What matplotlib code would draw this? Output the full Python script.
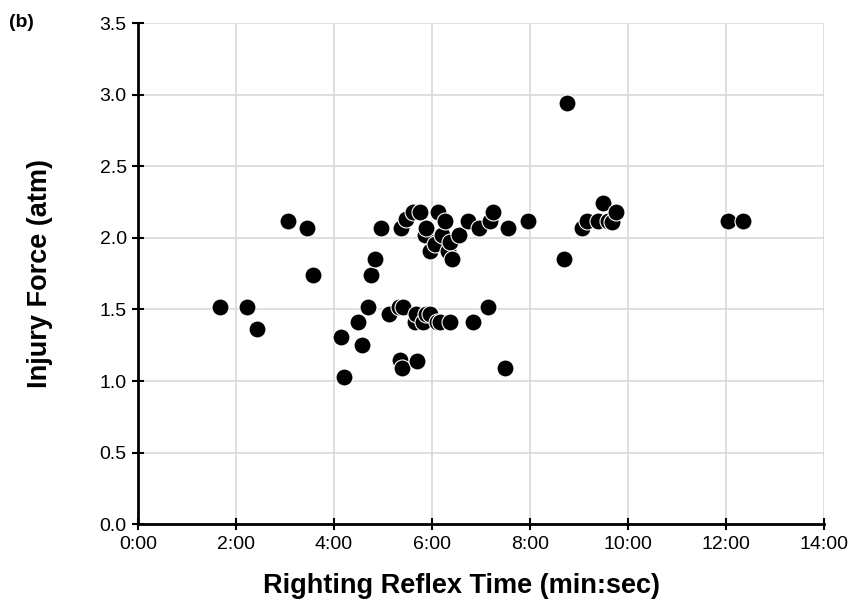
import matplotlib
matplotlib.use("Agg")
import matplotlib.pyplot as plt
from matplotlib.ticker import FuncFormatter, MultipleLocator

plt.rcParams['font.family'] = ['Liberation Sans', 'DejaVu Sans']

# righting reflex time (minutes) and injury force (atm)
time_min = [1.67, 2.22, 2.43, 3.06, 3.45, 3.57,
            4.14, 4.20, 4.49, 4.57, 4.69, 4.76, 4.84, 4.96,
            5.12, 5.33, 5.35, 5.37, 5.39, 5.41, 5.47, 5.61, 5.65, 5.67, 5.69,
            5.76, 5.81, 5.86, 5.88, 5.89, 5.96, 5.96, 6.06, 6.10, 6.12, 6.16,
            6.20, 6.27, 6.33, 6.37, 6.37, 6.41, 6.55, 6.73, 6.84, 6.96,
            7.14, 7.18, 7.24, 7.49, 7.55, 7.96,
            8.69, 8.76, 9.06, 9.16, 9.39, 9.50, 9.59, 9.67, 9.76,
            12.04, 12.35]
force_atm = [1.52, 1.52, 1.36, 2.12, 2.07, 1.74,
             1.31, 1.03, 1.41, 1.25, 1.52, 1.74, 1.85, 2.07,
             1.47, 1.52, 1.15, 2.07, 1.09, 1.52, 2.13, 2.18, 1.41, 1.47, 1.14,
             2.18, 1.41, 2.02, 2.07, 1.47, 1.47, 1.91, 1.96, 1.41, 2.18, 1.41,
             2.02, 2.12, 1.91, 1.97, 1.41, 1.85, 2.02, 2.12, 1.41, 2.07,
             1.52, 2.12, 2.18, 1.09, 2.07, 2.12,
             1.85, 2.94, 2.07, 2.12, 2.12, 2.24, 2.12, 2.11, 2.18,
             2.12, 2.12]

fig = plt.figure(figsize=(8.51, 6.06), dpi=100)
ax = fig.add_axes([0.162, 0.135, 0.806, 0.827])

ax.scatter(time_min, force_atm, s=150, c='black', edgecolors='white',
           linewidths=0.8, zorder=3)

ax.set_xlim(0, 14)
ax.set_ylim(0, 3.5)
ax.xaxis.set_major_locator(MultipleLocator(2))
ax.yaxis.set_major_locator(MultipleLocator(0.5))
ax.xaxis.set_major_formatter(FuncFormatter(lambda v, p: f"{int(v)}:00"))
ax.yaxis.set_major_formatter(FuncFormatter(lambda v, p: f"{v:.1f}"))

ax.grid(True, color='#d9d9d9', linewidth=1.2, zorder=0)
ax.set_axisbelow(True)
for s in ['top', 'right']:
    ax.spines[s].set_visible(False)
for s in ['left', 'bottom']:
    ax.spines[s].set_linewidth(2)
ax.tick_params(direction='inout', length=9, width=1.5, labelsize=14,
               colors='black')
ax.tick_params(axis='x', pad=4)

ax.set_xlabel('Righting Reflex Time (min:sec)', fontsize=19.5,
              fontweight='bold')
ax.set_ylabel('Injury Force (atm)', fontsize=19.5, fontweight='bold')
# label is a bit left of the axes centre in the original
ax.xaxis.set_label_coords(0.472, -0.098)
ax.yaxis.set_label_coords(-0.124, 0.5)

fig.text(0.01, 0.963, '(b)', fontsize=14, fontweight='bold', va='center')

fig.savefig('out.png', dpi=100)
